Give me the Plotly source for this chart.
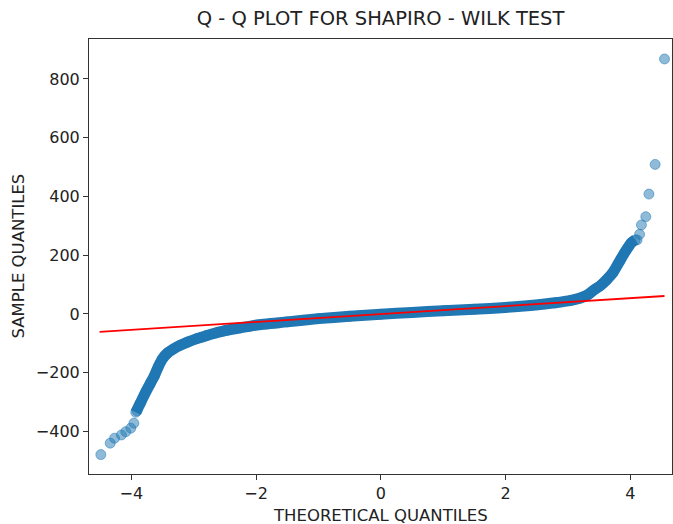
import plotly.graph_objects as go

# ---- data ----
# dense central part of the Q-Q curve (theoretical quantile, sample quantile)
dense_theoretical = [-3.93, -3.86, -3.78, -3.70, -3.63, -3.57, -3.50, -3.42, -3.33, -3.22,
                     -3.10, -2.95, -2.80, -2.65, -2.50, -2.25, -2.00, -1.50, -1.00, -0.50,
                     0.00, 0.50, 1.00, 1.50, 2.00, 2.40, 2.80, 3.05, 3.20, 3.32,
                     3.42, 3.52, 3.62, 3.72, 3.82, 3.92, 4.02, 4.08]
dense_sample = [-335, -305, -270, -238, -210, -180, -152, -133, -120, -107,
                -96, -84, -74, -65, -57, -47, -38, -27, -16, -8,
                -1, 5, 11, 16, 22, 29, 38, 46, 54, 65,
                82, 96, 116, 140, 176, 212, 243, 252]

# sparse tail points
tail_theoretical = [-4.49, -4.34, -4.27, -4.16, -4.09, -4.01, -3.96, -3.91,
                    4.11, 4.15, 4.18, 4.25, 4.30, 4.40, 4.55]
tail_sample = [-479, -440, -423, -412, -401, -389, -372, -330,
               252, 271, 303, 331, 408, 509, 868]

# fitted reference line end points
fit_theoretical = [-4.51, 4.55]
fit_sample = [-61, 61]

x_ticks = [-4, -2, 0, 2, 4]
y_ticks = [-400, -200, 0, 200, 400, 600, 800]

BLUE = "#1f77b4"
BLUE_A = "rgba(31,119,180,0.5)"

fig = go.Figure()

fig.add_trace(go.Scatter(
    x=dense_theoretical, y=dense_sample, mode="lines+markers",
    line=dict(color=BLUE, width=11, shape="spline", smoothing=0.6),
    marker=dict(size=10, color=BLUE_A, line=dict(color=BLUE_A, width=1)),
    showlegend=False, hoverinfo="skip"))

fig.add_trace(go.Scatter(
    x=tail_theoretical, y=tail_sample, mode="markers",
    marker=dict(size=10, color=BLUE_A, line=dict(color=BLUE_A, width=1)),
    showlegend=False))

fig.add_trace(go.Scatter(
    x=fit_theoretical, y=fit_sample, mode="lines",
    line=dict(color="#ff0000", width=1.8),
    showlegend=False))

font_family = "DejaVu Sans, sans-serif"

fig.update_layout(
    width=673, height=524,
    margin=dict(l=89, r=1, t=39, b=50),
    plot_bgcolor="white", paper_bgcolor="white",
    font=dict(family=font_family, size=16, color="#222222"),
    title=dict(text="Q - Q PLOT FOR SHAPIRO - WILK TEST",
               x=0.5655, xanchor="center", y=1 - 18 / 524, yanchor="middle",
               yref="container", xref="container",
               font=dict(family=font_family, size=19.5, color="#222222")),
    xaxis=dict(range=[-4.68, 4.67], tickvals=x_ticks, showgrid=False, zeroline=False,
               showline=True, linecolor="#333333", linewidth=1, mirror=True,
               ticks="outside", ticklen=5, tickcolor="#333333", tickwidth=1,
               tickfont=dict(size=16)),
    yaxis=dict(range=[-545, 936], tickvals=y_ticks, showgrid=False, zeroline=False,
               showline=True, linecolor="#333333", linewidth=1, mirror=True,
               ticks="outside", ticklen=5, tickcolor="#333333", tickwidth=1,
               tickfont=dict(size=16)),
    annotations=[
        dict(text="THEORETICAL QUANTILES", xref="paper", yref="paper", x=0.5, y=0,
             xanchor="center", yanchor="middle", yshift=-41, showarrow=False,
             font=dict(size=16.5, color="#222222")),
        dict(text="SAMPLE QUANTILES", xref="paper", yref="paper", x=0, y=0.5,
             xanchor="center", yanchor="middle", xshift=-71, textangle=-90,
             showarrow=False, font=dict(size=16.5, color="#222222")),
    ],
)

fig.write_html("out.html")
